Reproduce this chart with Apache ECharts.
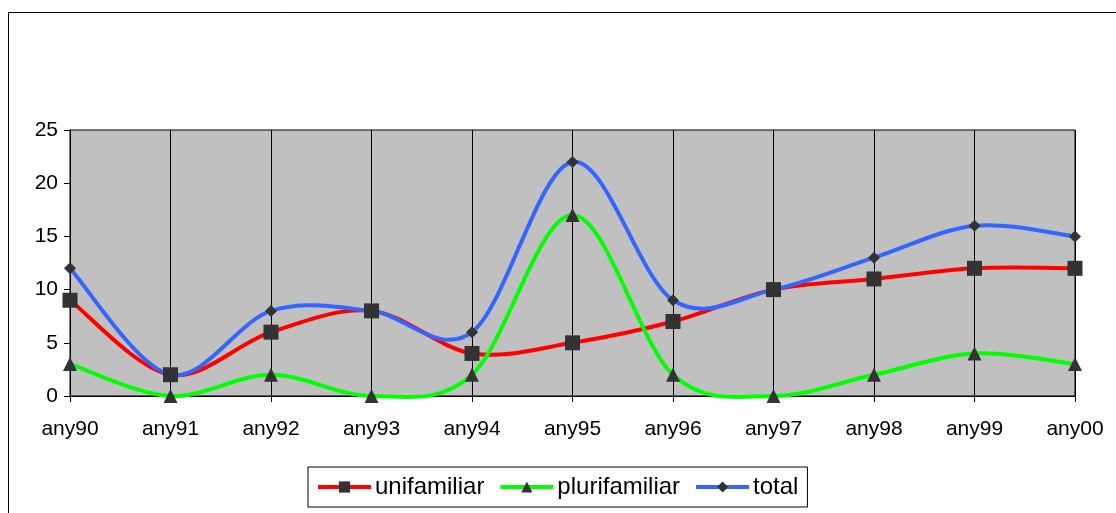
<!DOCTYPE html>
<html><head><meta charset="utf-8">
<script src="https://cdn.jsdelivr.net/npm/echarts@6/dist/echarts.min.js"></script>
<style>html,body{margin:0;padding:0;background:#fff}#c{width:1116px;height:513px}</style>
</head><body><div id="c"></div>
<script>
var categories = ['any90','any91','any92','any93','any94','any95','any96','any97','any98','any99','any00'];
var unifamiliar = [9,2,6,8,4,5,7,10,11,12,12];
var plurifamiliar = [3,0,2,0,2,17,2,0,2,4,3];
var total = [12,2,8,8,6,22,9,10,13,16,15];

var chart = echarts.init(document.getElementById('c'));
var font = 'Liberation Sans, Arial, sans-serif';
var colors = {unifamiliar:'#FF0000', plurifamiliar:'#00FF00', total:'#3366FF'};

// smooth curve (Catmull-Rom style, like spreadsheet smoothing) drawn through the axis scales
function curve(id, values, color, z){
  return {id:id, type:'custom', coordinateSystem:'cartesian2d', z:z, silent:true,
    data: values.map(function(v,i){return [i,v];}),
    encode:{x:0,y:1},
    clip:false,
    renderItem:function(params, api){
      if (params.dataIndex !== 0) return null;
      var p = values.map(function(v,i){ return api.coord([i, v]); });
      var n = p.length, d = 'M' + p[0][0] + ' ' + p[0][1];
      for (var i = 0; i < n - 1; i++) {
        var p0 = p[Math.max(i-1,0)], p1 = p[i], p2 = p[i+1], p3 = p[Math.min(i+2,n-1)];
        var c1x = p1[0] + (p2[0]-p0[0])/6, c1y = p1[1] + (p2[1]-p0[1])/6;
        var c2x = p2[0] - (p3[0]-p1[0])/6, c2y = p2[1] - (p3[1]-p1[1])/6;
        d += ' C' + c1x + ' ' + c1y + ' ' + c2x + ' ' + c2y + ' ' + p2[0] + ' ' + p2[1];
      }
      return {type:'path', shape:{pathData:d}, style:{fill:null, stroke:color, lineWidth:4, lineJoin:'round', lineCap:'round'}};
    }
  };
}
function markers(name, data, symbol, size){
  return {name:name, type:'line', data:data, z:10, symbol:symbol, symbolSize:size,
    showAllSymbol:true, lineStyle:{color:colors[name], width:0, opacity:0}, itemStyle:{color:'#333333'},
    emphasis:{disabled:true}};
}
function legendItem(name){
  return {name:name, lineStyle:{color:colors[name], width:4, opacity:1}};
}
chart.setOption({
  animation:false,
  backgroundColor:'#fff',
  graphic:[{type:'rect', shape:{x:8.5,y:12.5,width:1300,height:700}, style:{fill:'none',stroke:'#000',lineWidth:1}, silent:true}],
  grid:{left:70,right:41,top:130,bottom:117,show:true,backgroundColor:'#C0C0C0',borderColor:'#000',borderWidth:1},
  legend:{top:467,left:308,data:[legendItem('unifamiliar'),legendItem('plurifamiliar'),legendItem('total')],
    borderColor:'#000',borderWidth:1,padding:[8,9,8,8],itemGap:14,itemWidth:53,itemHeight:14,
    textStyle:{fontFamily:font,fontSize:24,color:'#000',padding:[0,0,0,-1]}},
  xAxis:{type:'category',data:categories,boundaryGap:false,
    axisLine:{lineStyle:{color:'#000'}},
    axisTick:{show:true,length:6,lineStyle:{color:'#000'}},
    axisLabel:{fontFamily:font,fontSize:21,color:'#000',margin:23},
    splitLine:{show:true,lineStyle:{color:'#000',width:1}}},
  yAxis:{type:'value',min:0,max:25,interval:5,
    axisLine:{show:true,lineStyle:{color:'#000'}},
    axisTick:{show:true,length:6,lineStyle:{color:'#000'}},
    axisLabel:{fontFamily:font,fontSize:21,color:'#000',margin:12},
    splitLine:{show:false}},
  series:[
    curve('c-uni', unifamiliar, colors.unifamiliar, 3),
    curve('c-pluri', plurifamiliar, colors.plurifamiliar, 4),
    curve('c-total', total, colors.total, 5),
    markers('unifamiliar',unifamiliar,'rect',15),
    markers('plurifamiliar',plurifamiliar,'triangle',14),
    markers('total',total,'diamond',12)
  ]
});
</script></body></html>
